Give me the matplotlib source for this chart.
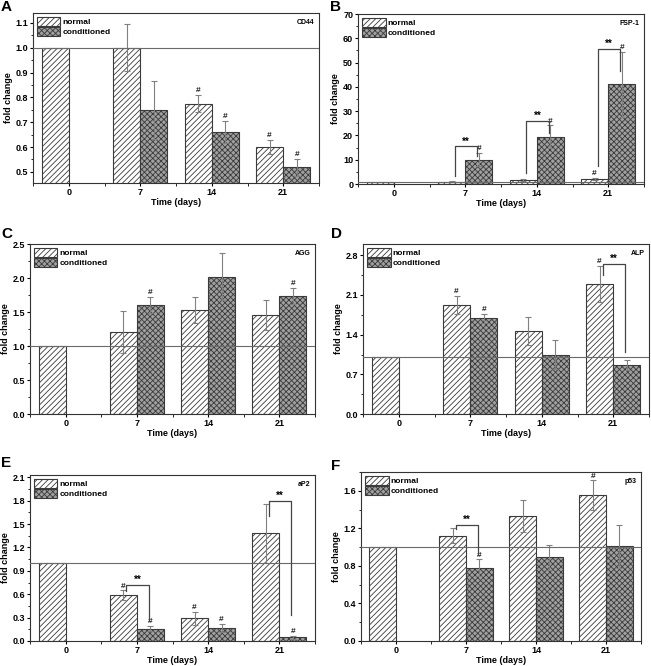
import numpy as np
import matplotlib
matplotlib.use("Agg")
import matplotlib.pyplot as plt
from matplotlib.patches import Patch
from matplotlib.ticker import MultipleLocator, FormatStrFormatter

plt.rcParams['font.family'] = ['Liberation Sans', 'DejaVu Sans']
plt.rcParams['font.weight'] = 'bold'
plt.rcParams['hatch.linewidth'] = 0.6

days = ['0', '7', '14', '21']
nan = np.nan

# per-gene data: normal / conditioned means and errors
genes = ['CD44', 'FSP-1', 'AGG', 'ALP', 'aP2', 'p53']
letters = ['A', 'B', 'C', 'D', 'E', 'F']

normal = {
    'CD44': [1.0, 1.0, 0.775, 0.60],
    'FSP-1': [1.0, 1.0, 1.6, 2.1],
    'AGG': [1.0, 1.21, 1.53, 1.46],
    'ALP': [1.0, 1.93, 1.47, 2.30],
    'aP2': [1.0, 0.59, 0.29, 1.38],
    'p53': [1.0, 1.12, 1.33, 1.55],
}
normal_err = {
    'CD44': [0, 0.095, 0.035, 0.03],
    'FSP-1': [0, 0.2, 0.3, 0.5],
    'AGG': [0, 0.31, 0.19, 0.22],
    'ALP': [0, 0.16, 0.25, 0.32],
    'aP2': [0, 0.06, 0.08, 0.38],
    'p53': [0, 0.08, 0.17, 0.16],
}
conditioned = {
    'CD44': [nan, 0.75, 0.66, 0.518],
    'FSP-1': [nan, 10.0, 19.5, 41.0],
    'AGG': [nan, 1.60, 2.02, 1.74],
    'ALP': [nan, 1.69, 1.05, 0.86],
    'aP2': [nan, 0.16, 0.17, 0.05],
    'p53': [nan, 0.78, 0.89, 1.01],
}
conditioned_err = {
    'CD44': [0, 0.117, 0.045, 0.035],
    'FSP-1': [0, 2.7, 4.7, 13.5],
    'AGG': [0, 0.12, 0.35, 0.12],
    'ALP': [0, 0.08, 0.25, 0.09],
    'aP2': [0, 0.03, 0.05, 0.02],
    'p53': [0, 0.09, 0.13, 0.23],
}
# '#' marks: (series, day index)
hash_marks = {
    'CD44': [('n', 2), ('n', 3), ('c', 2), ('c', 3)],
    'FSP-1': [('c', 1), ('c', 2), ('c', 3), ('n', 3)],
    'AGG': [('c', 1), ('c', 3)],
    'ALP': [('n', 1), ('c', 1), ('n', 3)],
    'aP2': [('n', 1), ('c', 1), ('n', 2), ('c', 2), ('c', 3)],
    'p53': [('c', 1), ('n', 3)],
}
# '**' brackets: (day index, top, left leg end, right leg end)
brackets = {
    'CD44': [],
    'FSP-1': [(1, 15.5, 3.2, 11.4), (2, 25.8, 4.5, 21.0), (3, 55.5, 7.3, 46.4)],
    'AGG': [],
    'ALP': [(3, 2.65, 2.46, 1.1)],
    'aP2': [(1, 0.72, 0.64, 0.27), (3, 1.80, 1.60, 0.34)],
    'p53': [(1, 1.24, 1.19, 0.93)],
}
ylims = {
    'CD44': (0.455, 1.14), 'FSP-1': (0, 70), 'AGG': (0, 2.5),
    'ALP': (0, 3.0), 'aP2': (0, 2.13), 'p53': (0, 1.8),
}
ysteps = {'CD44': 0.1, 'FSP-1': 10, 'AGG': 0.5, 'ALP': 0.7, 'aP2': 0.3, 'p53': 0.4}
yfmt = {'CD44': '%.1f', 'FSP-1': '%d', 'AGG': '%.1f', 'ALP': '%.1f', 'aP2': '%.1f', 'p53': '%.1f'}

# axes boxes in pixels: left, right, top, bottom
boxes = [(33, 319, 13, 183), (358, 644, 14, 184),
         (30, 315, 244, 414), (363, 649, 244, 414),
         (30, 315, 475, 641), (361, 641, 472, 641)]
letter_pos = [(1, 0), (330, 0), (1, 227), (331, 227), (1, 456), (331, 459)]

W, H = 651, 666
fig = plt.figure(figsize=(W / 100, H / 100), dpi=100)

w = 0.38
x = np.arange(len(days))
edge = '#3a3a3a'
errc = '#808080'
fs = 6.5

for g, let, (l, r, t, b), (lx, ly) in zip(genes, letters, boxes, letter_pos):
    ax = fig.add_axes([l / W, 1 - b / H, (r - l) / W, (b - t) / H])
    ax.bar(x - w / 2, normal[g], w, color='white', edgecolor=edge, hatch='//////',
           linewidth=0.8, zorder=2)
    ax.bar(x + w / 2, conditioned[g], w, color='#a0a0a0', edgecolor=edge, hatch='xxxxxx',
           linewidth=0.8, zorder=2)
    ne = np.array(normal_err[g])
    ce = np.array(conditioned_err[g])
    ax.errorbar((x - w / 2)[1:], np.array(normal[g])[1:], yerr=ne[1:], fmt='none',
                ecolor=errc, elinewidth=0.8, capsize=2, capthick=0.8, zorder=3)
    ax.errorbar((x + w / 2)[1:], np.array(conditioned[g])[1:], yerr=ce[1:], fmt='none',
                ecolor=errc, elinewidth=0.8, capsize=2, capthick=0.8, zorder=3)
    ax.axhline(1, color='#6a6a6a', lw=0.8, zorder=4)

    for s, i in hash_marks[g]:
        if s == 'n':
            xx, yy = x[i] - w / 2, normal[g][i] + ne[i]
        else:
            xx, yy = x[i] + w / 2, conditioned[g][i] + ce[i]
        ax.annotate('#', (xx, yy), xytext=(0, 0.5), textcoords='offset points',
                    ha='center', va='bottom', fontsize=6, color='#222')

    for i, top, lo_l, lo_r in brackets[g]:
        x0, x1 = x[i] - w / 2 + 0.04, x[i] + w / 2 - 0.02
        ax.plot([x0, x0, x1, x1], [lo_l, top, top, lo_r], color='#444', lw=0.9, zorder=5)
        ax.text((x0 + x1) / 2, top, '**', ha='center', va='bottom', fontsize=7)

    ax.set_xlim(-0.5, 3.5)
    ax.set_ylim(*ylims[g])
    ax.set_xticks(x)
    ax.set_xticklabels(days)
    ax.xaxis.set_minor_locator(MultipleLocator(0.5))
    ax.yaxis.set_major_locator(MultipleLocator(ysteps[g]))
    ax.yaxis.set_minor_locator(MultipleLocator(ysteps[g] / 2))
    ax.yaxis.set_major_formatter(FormatStrFormatter(yfmt[g]))
    ax.tick_params(axis='both', which='major', labelsize=fs, length=2.5, width=0.8,
                   direction='out', pad=1)
    ax.tick_params(axis='both', which='minor', length=1.8, width=0.6, direction='out')
    for lab in ax.get_xticklabels() + ax.get_yticklabels():
        lab.set_fontweight('bold')
    for sp in ax.spines.values():
        sp.set_linewidth(0.8)
        sp.set_color('#333')
    ax.set_xlabel('Time (days)', fontsize=fs, fontweight='bold', labelpad=0.5)
    ax.set_ylabel('fold change', fontsize=fs, fontweight='bold', labelpad=2)
    ax.text(0.985, 0.965, g, transform=ax.transAxes, ha='right', va='top', fontsize=5,
            fontweight='bold')

    handles = [Patch(facecolor='white', edgecolor=edge, hatch='//////', lw=0.8),
               Patch(facecolor='#a0a0a0', edgecolor=edge, hatch='xxxxxx', lw=0.8)]
    ax.legend(handles, ['normal', 'conditioned'], loc='upper left', frameon=False,
              handlelength=2.8, handleheight=1.2, handletextpad=0.2,
              labelspacing=0.1, borderaxespad=0.3, borderpad=0.2,
              prop={'weight': 'bold', 'size': 6})

    fig.text(lx / W, 1 - ly / H, let, fontsize=11, fontweight='bold', va='top',
             ha='left')

fig.savefig('out.png', dpi=100)
